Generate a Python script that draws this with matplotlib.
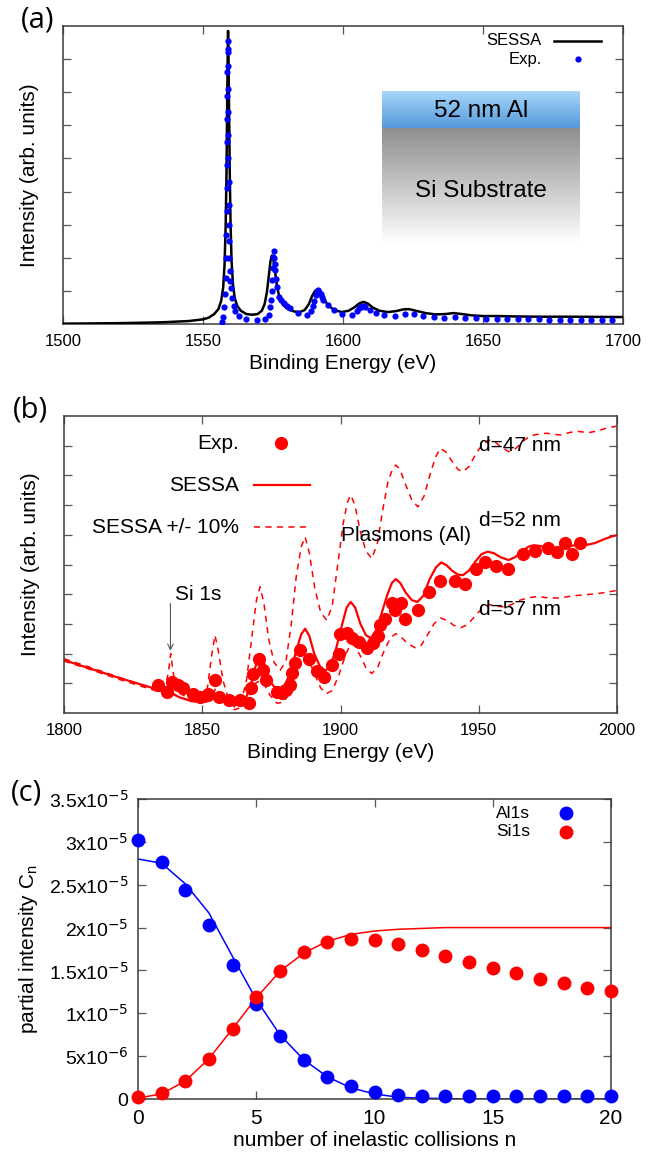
import numpy as np
import matplotlib
matplotlib.use("Agg")
import matplotlib.pyplot as plt

plt.rcParams['font.family'] = ['Liberation Sans', 'DejaVu Sans']

# ---------------- Panel (a) data ----------------
a_sessa_x = [1500, 1520, 1535, 1545, 1550, 1552, 1554, 1555.5, 1556.5, 1557.2, 1557.7, 1558.1,
             1558.4, 1558.65, 1558.85, 1558.95, 1559.1, 1559.3, 1559.55, 1559.85, 1560.2, 1560.7,
             1561.3, 1562.2, 1563.5, 1565.5, 1567.5, 1569.5, 1571.0, 1572.0, 1572.8, 1573.5, 1574.1,
             1574.6, 1575.1, 1575.7, 1576.4, 1577.3, 1578.5, 1580.3, 1582.5, 1584.5, 1586.3, 1587.8,
             1589.0, 1590.0, 1591.0, 1592.0, 1593.2, 1594.8, 1597.0, 1599.5, 1602.0, 1604.0, 1605.8,
             1607.3, 1608.8, 1610.6, 1613.0, 1616.0, 1619.0, 1621.5, 1623.5, 1626.0, 1629.5, 1633.0,
             1636.5, 1639.5, 1642.5, 1646.0, 1650.0, 1655.0, 1660, 1670, 1680, 1700]
a_sessa_y = [0.01, 0.025, 0.05, 0.09, 0.14, 0.19, 0.3, 0.45, 0.7, 1.1, 1.8, 3.0,
             4.6, 6.8, 8.4, 8.85, 8.2, 6.6, 4.6, 3.0, 1.9, 1.2,
             0.8, 0.55, 0.4, 0.3, 0.28, 0.3, 0.4, 0.6, 0.95, 1.45, 1.9,
             2.07, 1.95, 1.6, 1.15, 0.8, 0.58, 0.45, 0.38, 0.36, 0.42, 0.6,
             0.85, 1.0, 1.05, 0.95, 0.75, 0.55, 0.42, 0.36, 0.4, 0.5, 0.62,
             0.67, 0.62, 0.5, 0.4, 0.36, 0.39, 0.44, 0.45, 0.4, 0.33, 0.29,
             0.3, 0.33, 0.3, 0.26, 0.24, 0.24, 0.23, 0.22, 0.22, 0.21]

a_exp_x = [1556.7, 1557.2, 1557.6, 1557.9, 1558.1, 1558.2, 1558.3, 1558.4, 1558.45, 1558.5, 1558.55,
           1558.6, 1558.65, 1558.7, 1558.75, 1558.8, 1558.85, 1558.9, 1558.95, 1559.0, 1559.05, 1559.1,
           1559.15, 1559.2, 1559.25, 1559.3, 1559.4, 1559.5, 1559.7, 1560.0, 1560.3, 1560.9, 1561.5,
           1563.0, 1565.3, 1569.3, 1572.0, 1573.5, 1574.0, 1574.3, 1574.5, 1574.7, 1574.9, 1575.0,
           1575.2, 1575.4, 1575.6, 1575.8, 1576.1, 1576.5, 1577.3, 1578.0, 1578.8, 1580.0, 1581.0,
           1584.0, 1587.0, 1588.5, 1589.3, 1589.8, 1590.3, 1590.7, 1591.1, 1591.5, 1592.0, 1592.5,
           1593.0, 1594.5, 1596.8, 1599.8, 1603.2, 1605.0, 1605.8, 1606.4, 1606.9, 1607.5, 1608.0,
           1609.5, 1611.8, 1614.8, 1618.5, 1622.3, 1625.3, 1628.7, 1632.5, 1636.2, 1640.0, 1643.7,
           1647.5, 1651.2, 1655.0, 1658.7, 1662.5, 1666.2, 1670.0, 1673.7, 1677.5, 1681.2, 1685.0,
           1688.7, 1692.5, 1696.2]
a_exp_y = [0.05, 0.2, 0.5, 0.9, 1.4, 2.0, 2.7, 3.4, 4.1, 4.8, 5.5,
           6.2, 6.9, 7.6, 8.2, 8.56, 8.3, 7.8, 7.1, 6.4, 5.7, 5.0,
           4.3, 3.6, 3.0, 2.5, 2.0, 1.6, 1.3, 1.1, 0.8, 0.55, 0.38,
           0.23, 0.15, 0.13, 0.15, 0.28, 0.5, 0.73, 1.0, 1.32, 1.7, 2.02,
           2.2, 2.0, 1.8, 1.62, 1.35, 1.12, 0.83, 0.72, 0.63, 0.55, 0.48,
           0.33, 0.28, 0.38, 0.53, 0.7, 0.87, 0.97, 1.02, 0.98, 0.92, 0.82,
           0.73, 0.58, 0.43, 0.31, 0.28, 0.38, 0.48, 0.52, 0.53, 0.53, 0.51,
           0.43, 0.33, 0.28, 0.25, 0.30, 0.31, 0.25, 0.21, 0.18, 0.20, 0.18,
           0.17, 0.16, 0.15, 0.15, 0.14, 0.14, 0.14, 0.13, 0.13, 0.13, 0.13,
           0.13, 0.13, 0.13]

# ---------------- Panel (b) data ----------------
b_exp_x = [1834.0, 1837.3, 1839.2, 1841.2, 1843.1, 1846.5, 1849.2, 1852.1, 1854.6, 1855.9, 1859.5,
           1863.7, 1866.8, 1867.5, 1868.3, 1870.4, 1871.9, 1872.9, 1877.0, 1878.8, 1880.3, 1881.6,
           1882.6, 1883.5, 1885.5, 1888.7, 1891.5, 1894.2, 1897.1, 1899.4, 1899.8, 1902.3, 1904.1,
           1906.7, 1909.5, 1911.6, 1913.6, 1914.3, 1916.2, 1918.6, 1919.7, 1922.0, 1923.5, 1928.0,
           1931.9, 1936.1, 1941.3, 1945.1, 1949.1, 1952.4, 1956.3, 1960.5, 1965.9, 1970.4, 1975.0,
           1978.4, 1981.1, 1983.7, 1986.7]
b_exp_y = [0.93, 0.71, 1.04, 0.93, 0.84, 0.65, 0.54, 0.65, 1.12, 0.54, 0.43,
           0.43, 0.34, 0.84, 1.30, 1.83, 1.44, 1.12, 0.71, 0.67, 0.76, 0.93,
           1.33, 1.69, 2.11, 1.83, 1.42, 1.21, 1.61, 2.00, 2.67, 2.70, 2.51,
           2.39, 2.19, 2.37, 2.60, 2.96, 3.15, 3.69, 3.46, 3.69, 3.18, 3.48,
           4.08, 4.45, 4.45, 4.36, 4.84, 5.07, 4.94, 4.84, 5.35, 5.45, 5.54,
           5.43, 5.74, 5.35, 5.74]

b_sessa_x = [1800, 1810, 1820, 1830, 1836, 1838.5, 1842, 1846, 1850, 1853, 1855, 1857, 1859.5,
             1861.7, 1864, 1866, 1868, 1869.5, 1870.9, 1872.3, 1874, 1875.8, 1877.7, 1880, 1882,
             1884, 1885.8, 1887.2, 1888.7, 1890.5, 1892.5, 1894.5, 1896.5, 1898.5, 1900.5, 1902.2,
             1903.7, 1905.3, 1907.2, 1909.2, 1911.0, 1913, 1915, 1917, 1918.6, 1920.0, 1921.6,
             1923.6, 1925.8, 1927.8, 1930, 1932.2, 1934.5, 1936.4, 1938.3, 1940.5, 1942.5, 1944.3,
             1946.5, 1948.8, 1951, 1953.2, 1955.5, 1958, 1960.8, 1963.2, 1965.8, 1968, 1970,
             1972.5, 1975, 1977.5, 1980, 1983, 1986, 1989, 1992, 1995, 1998, 2000]
b_sessa_y = [1.78, 1.48, 1.18, 0.9, 0.72, 0.68, 0.52, 0.4, 0.36, 0.42, 0.55, 0.42, 0.3,
             0.26, 0.32, 0.55, 1.1, 1.65, 1.94, 1.7, 1.2, 0.9, 0.82, 0.95, 1.4,
             2.1, 2.65, 2.84, 2.6, 2.0, 1.58, 1.42, 1.6, 2.2, 2.95, 3.55,
             3.74, 3.55, 3.0, 2.62, 2.52, 2.8, 3.4, 4.0, 4.38, 4.51, 4.38,
             4.05, 3.8, 3.74, 3.95, 4.5, 4.9, 5.07, 4.98, 4.78, 4.66, 4.64,
             4.8, 5.1, 5.35, 5.43, 5.38, 5.24, 5.15, 5.25, 5.45, 5.6, 5.65,
             5.62, 5.52, 5.48, 5.52, 5.62, 5.67, 5.66, 5.72, 5.84, 5.94, 5.99]

b_d47_x = [1800, 1810, 1820, 1828, 1834, 1836.5, 1837.8, 1838.6, 1839.4, 1840.8, 1845, 1849.5,
           1851.8, 1853.5, 1854.6, 1855.8, 1857.5, 1859.5, 1861.7, 1864, 1866, 1868, 1869.6,
           1870.9, 1872.3, 1874, 1876, 1878.2, 1880.3, 1882.2, 1884, 1885.8, 1887.2, 1888.7,
           1890.7, 1892.8, 1895, 1897, 1899, 1901, 1902.5, 1903.7, 1905.2, 1907.2, 1909.2,
           1911.3, 1913.3, 1915.2, 1917.2, 1918.8, 1920.0, 1921.5, 1923.5, 1925.8, 1928.0,
           1930.2, 1932.3, 1934.3, 1936.1, 1938, 1940.5, 1942.5, 1944.3, 1946.5, 1948.8, 1951,
           1953.5, 1955.8, 1958.2, 1960.8, 1963.3, 1966, 1968.5, 1971, 1974.6, 1977.5, 1980,
           1983, 1986, 1989.8, 1993, 1996.5, 2000]
b_d47_y = [1.83, 1.52, 1.2, 0.95, 0.8, 0.8, 1.4, 2.0, 1.4, 0.72, 0.5, 0.43,
           0.8, 2.0, 2.62, 2.1, 1.1, 0.45, 0.2, 0.35, 1.1, 2.6, 3.8,
           4.25, 3.7, 2.5, 1.7, 1.44, 1.75, 3.0, 4.6, 5.6, 5.93, 5.4,
           4.2, 3.4, 3.12, 3.6, 5.0, 6.4, 7.1, 7.34, 7.0, 6.1, 5.45,
           5.2, 5.7, 6.8, 7.8, 8.2, 8.35, 8.2, 7.7, 7.17, 6.94,
           7.3, 8.0, 8.6, 8.91, 8.8, 8.45, 8.2, 8.12, 8.3, 8.7, 9.0,
           9.19, 9.13, 8.95, 8.8, 8.9, 9.15, 9.32, 9.38, 9.42, 9.38, 9.36,
           9.45, 9.48, 9.44, 9.5, 9.6, 9.66]

b_d57_x = [1800, 1810, 1820, 1830, 1836, 1838.5, 1841, 1846, 1851, 1853.5, 1854.8, 1856.3,
           1858.5, 1861.7, 1864.5, 1867, 1869.3, 1870.9, 1872.5, 1874.5, 1877, 1879.5, 1882,
           1884.5, 1886, 1887.2, 1888.7, 1890.7, 1892.8, 1894.8, 1897, 1899.5, 1901.8, 1903.7,
           1905.3, 1907.3, 1909.3, 1911.3, 1913.5, 1915.8, 1918.2, 1920, 1922, 1924.5, 1927,
           1929, 1931.3, 1933.8, 1936.1, 1938.5, 1941, 1943.5, 1946, 1948.5, 1951, 1953.8,
           1956.5, 1959.2, 1962, 1965, 1968, 1971, 1975, 1979, 1983, 1987, 1992, 1996, 2000]
b_d57_y = [1.75, 1.45, 1.13, 0.84, 0.67, 0.72, 0.56, 0.42, 0.34, 0.55, 0.82, 0.55,
           0.28, 0.11, 0.2, 0.6, 1.0, 1.10, 0.95, 0.6, 0.33, 0.36, 0.8,
           1.5, 1.8, 1.89, 1.75, 1.3, 0.85, 0.65, 0.75, 1.3, 1.95, 2.34,
           2.25, 1.9, 1.5, 1.33, 1.55, 2.1, 2.55, 2.67, 2.55, 2.32, 2.2,
           2.25, 2.6, 3.0, 3.2, 3.12, 2.95, 2.87, 2.98, 3.25, 3.5, 3.65,
           3.6, 3.57, 3.66, 3.8, 3.88, 3.92, 3.88, 3.87, 3.93, 3.97, 4.01, 4.06, 4.13]

# ---------------- Panel (c) data ----------------
n_coll = list(range(21))
al_exp = [3.02, 2.77, 2.44, 2.03, 1.56, 1.11, 0.73, 0.45, 0.26, 0.15, 0.08,
          0.047, 0.03, 0.03, 0.03, 0.03, 0.03, 0.035, 0.04, 0.04, 0.04]
al_sessa = [2.80, 2.75, 2.51, 2.17, 1.66, 1.16, 0.75, 0.46, 0.26, 0.13, 0.06,
            0.02, 0.01, 0.005, 0.0, 0.0, 0.0, 0.0, 0.0, 0.0, 0.0]
si_exp = [0.02, 0.07, 0.21, 0.47, 0.82, 1.19, 1.49, 1.71, 1.83, 1.87, 1.85,
          1.81, 1.74, 1.67, 1.60, 1.53, 1.47, 1.40, 1.35, 1.30, 1.26]
si_sessa = [0.01, 0.06, 0.21, 0.47, 0.82, 1.18, 1.49, 1.70, 1.84, 1.92, 1.96,
            1.98, 1.99, 2.0, 2.0, 2.0, 2.0, 2.0, 2.0, 2.0, 2.0]
c_scale = 1e-5
c_ytick_vals = [0, 5e-6, 1e-5, 1.5e-5, 2e-5, 2.5e-5, 3e-5, 3.5e-5]
c_ytick_labels = ['0', r'5x10$^{-6}$', r'1x10$^{-5}$', r'1.5x10$^{-5}$', r'2x10$^{-5}$',
                  r'2.5x10$^{-5}$', r'3x10$^{-5}$', r'3.5x10$^{-5}$']

# ---------------- Figure ----------------
W, H = 659, 1156
fig = plt.figure(figsize=(W / 100, H / 100), dpi=100)

def axrect(l, t, r, b):
    return [l / W, 1 - b / H, (r - l) / W, (b - t) / H]

frame_col = '#3a3a3a'
TICK = 12
LAB = 15

def style(ax):
    for s in ax.spines.values():
        s.set_color(frame_col)
        s.set_linewidth(1.1)
    ax.tick_params(direction='in', top=True, right=True, length=6, width=0.9,
                   color='#555555', labelsize=TICK, pad=7)

# ---- (a)
ax = fig.add_axes(axrect(63, 26, 623, 324))
style(ax)
ax.plot(a_sessa_x, a_sessa_y, color='black', lw=1.8, zorder=3)
ax.plot(a_exp_x, a_exp_y, 'o', color='#0000ff', ms=4.5, mec='none', zorder=4)
ax.set_xticks([1500, 1550, 1600, 1650, 1700])
ax.set_yticks(range(1, 9))
ax.set_yticklabels([])
ax.set_xlabel('Binding Energy (eV)', fontsize=LAB, labelpad=4)
ax.set_ylabel('Intensity (arb. units)', fontsize=LAB, labelpad=10)
ax.text(0.855, 0.951, 'SESSA', transform=ax.transAxes, ha='right', va='center', fontsize=12)
ax.plot([0.876, 0.960], [0.951, 0.951], transform=ax.transAxes, color='black', lw=1.8)
ax.text(0.855, 0.889, 'Exp.', transform=ax.transAxes, ha='right', va='center', fontsize=12)
ax.plot([0.919], [0.889], 'o', transform=ax.transAxes, color='#0000ff', ms=4.5, mec='none')
# inset gradient box
x0, x1 = 0.570, 0.923
yb0, yb1 = 0.657, 0.780
yg0 = 0.268
top_c = np.array([0.66, 0.84, 0.98])
bot_c = np.array([0.33, 0.60, 0.86])
t = np.linspace(0, 1, 64)[:, None]
blue = top_c[None, :] * (1 - t) + bot_c[None, :] * t
ax.imshow(blue[:, None, :], extent=[x0, x1, yb0, yb1], transform=ax.transAxes,
          aspect='auto', zorder=1, interpolation='bilinear')
g_top = np.array([0.56, 0.56, 0.56])
g_bot = np.array([1.0, 1.0, 1.0])
gray = g_top[None, :] * (1 - t) + g_bot[None, :] * t
ax.imshow(gray[:, None, :], extent=[x0, x1, yg0, yb0], transform=ax.transAxes,
          aspect='auto', zorder=1, interpolation='bilinear')
ax.set_xlim(1500, 1700)
ax.set_ylim(0, 9)
ax.set_aspect('auto')
ax.text(0.746, 0.716, '52 nm Al', transform=ax.transAxes, ha='center', va='center', fontsize=17.5, zorder=2)
ax.text(0.746, 0.4475, 'Si Substrate', transform=ax.transAxes, ha='center', va='center', fontsize=17.5, zorder=2)
fig.text(38 / W, 1 - 20 / H, '(a)', ha='center', va='center', fontsize=21, family=['Open Sans', 'DejaVu Sans'])

# ---- (b)
ax = fig.add_axes(axrect(64, 416, 617, 713))
style(ax)
red = '#ff0000'
ax.plot(b_d47_x, b_d47_y, color=red, lw=1.1, dashes=(4, 3.5))
ax.plot(b_d57_x, b_d57_y, color=red, lw=1.1, dashes=(4, 3.5))
ax.plot(b_sessa_x, b_sessa_y, color=red, lw=1.6)
ax.plot(b_exp_x, b_exp_y, 'o', color=red, ms=9.5, mec='none', zorder=4)
ax.set_xlim(1800, 2000)
ax.set_ylim(0, 10)
ax.set_xticks([1800, 1850, 1900, 1950, 2000])
ax.set_yticks(range(1, 10))
ax.set_yticklabels([])
ax.set_xlabel('Binding Energy (eV)', fontsize=LAB, labelpad=4)
ax.set_ylabel('Intensity (arb. units)', fontsize=LAB, labelpad=10)
ax.text(0.316, 0.908, 'Exp.', transform=ax.transAxes, ha='right', va='center', fontsize=LAB)
ax.plot([0.393], [0.908], 'o', transform=ax.transAxes, color=red, ms=9.5, mec='none')
ax.text(0.316, 0.767, 'SESSA', transform=ax.transAxes, ha='right', va='center', fontsize=LAB)
ax.plot([0.343, 0.445], [0.767, 0.767], transform=ax.transAxes, color=red, lw=1.6)
ax.text(0.316, 0.625, 'SESSA +/- 10%', transform=ax.transAxes, ha='right', va='center', fontsize=LAB)
ax.plot([0.343, 0.445], [0.625, 0.625], transform=ax.transAxes, color=red, lw=1.1, dashes=(4, 3.5))
ax.text(1950.2, 8.99, 'd=47 nm', ha='left', va='center', fontsize=LAB)
ax.text(1950.2, 6.47, 'd=52 nm', ha='left', va='center', fontsize=LAB)
ax.text(1950.2, 3.49, 'd=57 nm', ha='left', va='center', fontsize=LAB)
ax.text(1900.2, 5.99, 'Plasmons (Al)', ha='left', va='center', fontsize=LAB)
ax.text(1840.1, 4.0, 'Si 1s', ha='left', va='center', fontsize=LAB)
ax.annotate('', xy=(1838.5, 2.0), xytext=(1838.5, 3.78),
            arrowprops=dict(arrowstyle='->', color='#555555', lw=0.8))
fig.text(30 / W, 1 - 410 / H, '(b)', ha='center', va='center', fontsize=21, family=['Open Sans', 'DejaVu Sans'])

# ---- (c)
ax = fig.add_axes(axrect(138, 799, 611, 1099))
style(ax)
blue_c = '#0000ff'
ax.plot(n_coll, np.array(al_sessa) * c_scale, color=blue_c, lw=1.1)
ax.plot(n_coll, np.array(si_sessa) * c_scale, color=red, lw=1.1)
ax.plot(n_coll, np.array(al_exp) * c_scale, 'o', color=blue_c, ms=10, mec='none', clip_on=False, zorder=4)
ax.plot(n_coll, np.array(si_exp) * c_scale, 'o', color=red, ms=10, mec='none', clip_on=False, zorder=4)
ax.set_xlim(0, 20)
ax.set_ylim(0, 3.5e-5)
ax.set_xticks([0, 5, 10, 15, 20])
ax.set_yticks(c_ytick_vals)
ax.set_yticklabels(c_ytick_labels)
ax.tick_params(axis='y', labelsize=14)
ax.tick_params(axis='x', labelsize=15)
ax.set_xlabel('number of inelastic collisions n', fontsize=LAB, labelpad=2)
ax.set_ylabel(r'partial intensity C$_\mathregular{n}$', fontsize=LAB, labelpad=6)
ax.text(0.829, 0.952, 'Al1s', transform=ax.transAxes, ha='right', va='center', fontsize=12.5)
ax.plot([0.904], [0.952], 'o', transform=ax.transAxes, color=blue_c, ms=10, mec='none')
ax.text(0.829, 0.89, 'Si1s', transform=ax.transAxes, ha='right', va='center', fontsize=12.5)
ax.plot([0.904], [0.89], 'o', transform=ax.transAxes, color=red, ms=10, mec='none')
fig.text(26 / W, 1 - 793 / H, '(c)', ha='center', va='center', fontsize=21, family=['Open Sans', 'DejaVu Sans'])

fig.savefig('out.png', dpi=100)
